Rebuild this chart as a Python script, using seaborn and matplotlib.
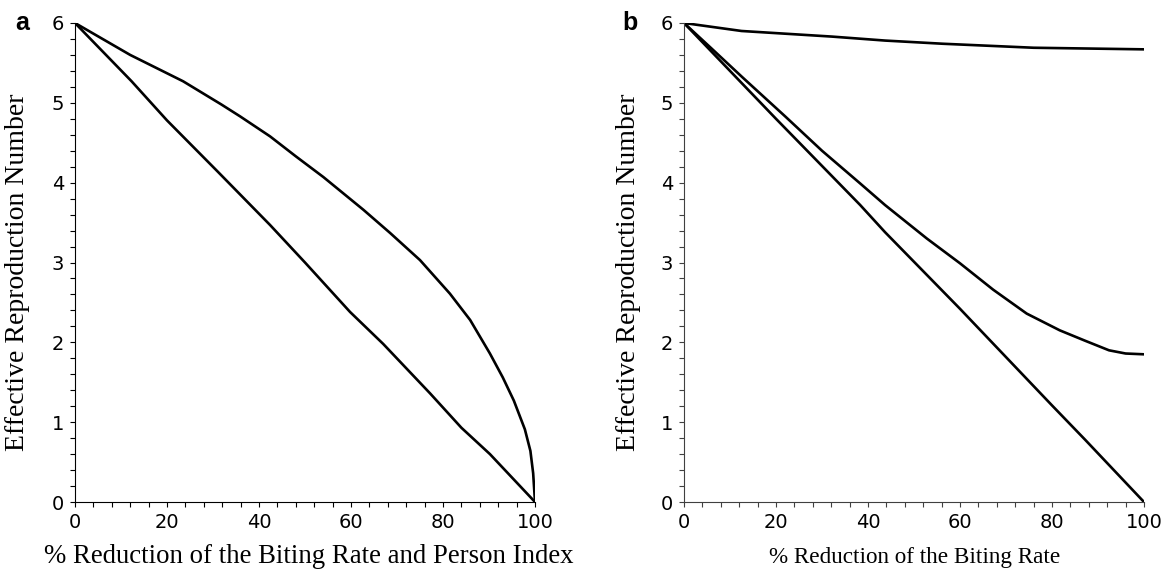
import numpy as np
import pandas as pd
import matplotlib
matplotlib.use("Agg")
import matplotlib.pyplot as plt
import seaborn as sns
from matplotlib.ticker import MultipleLocator

# Panel a
a_lin_x = [0, 12.3, 20, 31, 42.4, 50, 59.8, 67, 77.2, 84, 90.2, 100]
a_lin_y = [6.0, 5.27, 4.78, 4.14, 3.47, 3.00, 2.38, 1.98, 1.36, 0.93, 0.60, 0.0]
a_cur_x = [0, 12, 23.5, 31.8, 35.9, 42.4, 48, 54, 62.7, 68.5, 75, 81.5, 85.9, 90.2, 93, 95.4, 97.8, 99, 99.6, 100]
a_cur_y = [6.0, 5.60, 5.27, 4.98, 4.83, 4.58, 4.33, 4.07, 3.66, 3.37, 3.03, 2.61, 2.28, 1.86, 1.56, 1.27, 0.91, 0.64, 0.36, 0.0]

# Panel b
b_top_x = [0, 12.5, 32.1, 43.7, 56.3, 76, 100]
b_top_y = [6.0, 5.90, 5.83, 5.78, 5.74, 5.69, 5.67]
b_mid_x = [0, 6, 12.7, 22, 30, 38.3, 43.7, 52.8, 60, 67.2, 74.5, 81.7, 87.2, 92.4, 96, 100]
b_mid_y = [6.0, 5.68, 5.32, 4.83, 4.40, 3.99, 3.72, 3.30, 2.99, 2.66, 2.36, 2.15, 2.02, 1.90, 1.86, 1.85]
b_low_x = [0, 20, 38.3, 43.7, 60, 80, 87.2, 100]
b_low_y = [6.0, 4.8, 3.72, 3.38, 2.42, 1.21, 0.78, 0.0]

xticks = [0, 20, 40, 60, 80, 100]
yticks = [0, 1, 2, 3, 4, 5, 6]

sns.set_style("ticks")
plt.rcParams['font.family'] = ['DejaVu Sans']
plt.rcParams['text.color'] = 'black'
plt.rcParams['axes.labelcolor'] = 'black'
plt.rcParams['xtick.labelcolor'] = 'black'
plt.rcParams['ytick.labelcolor'] = 'black'

W, H = 1174, 570
fig = plt.figure(figsize=(W / 100, H / 100), dpi=100)
axa = fig.add_axes([75 / W, 1 - 502 / H, 460 / W, 479 / H])
axb = fig.add_axes([684 / W, 1 - 502 / H, 460 / W, 479 / H])


def draw(ax, series):
    for xs, ys in series:
        df = pd.DataFrame({"x": xs, "y": ys})
        sns.lineplot(data=df, x="x", y="y", ax=ax, color="black", lw=1.9, sort=False)


draw(axa, [(a_lin_x, a_lin_y), (a_cur_x, a_cur_y)])
draw(axb, [(b_top_x, b_top_y), (b_mid_x, b_mid_y), (b_low_x, b_low_y)])

for ax, sc in ((axa, 'black'), (axb, '#404040')):
    ax.set_xlim(0, 100)
    ax.set_ylim(0, 6)
    ax.set_xticks(xticks)
    ax.set_yticks(yticks)
    ax.xaxis.set_minor_locator(MultipleLocator(4))
    ax.yaxis.set_minor_locator(MultipleLocator(0.2))
    ax.tick_params(which='both', direction='out', length=3.8, width=0.8, color=sc)
    ax.tick_params(axis='x', which='major', labelsize=14, pad=4, labelcolor='black')
    ax.tick_params(axis='y', which='major', labelsize=14, pad=4, labelcolor='black')
    for s in ['top', 'right']:
        ax.spines[s].set_visible(False)
    for s in ['left', 'bottom']:
        ax.spines[s].set_linewidth(0.8)
        ax.spines[s].set_color(sc)
    ax.set_ylabel("Effective Reproduction Number", family='Liberation Serif', fontsize=20, color='black')

axa.yaxis.set_label_coords(-0.098, 0.48)
axb.yaxis.set_label_coords(-0.094, 0.48)

axa.set_xlabel("% Reduction of the Biting Rate and Person Index", family='Liberation Serif', fontsize=19.3, color='black')
axb.set_xlabel("% Reduction of the Biting Rate", family='Liberation Serif', fontsize=16.7, color='black')
axa.xaxis.set_label_coords(0.508, -0.087)
axb.xaxis.set_label_coords(0.502, -0.093)

fig.text(15 / W, 1 - 30 / H, "a", family='Liberation Sans', fontsize=18, fontweight='bold', va='baseline', ha='left', color='black')
fig.text(622 / W, 1 - 30 / H, "b", family='Liberation Sans', fontsize=18, fontweight='bold', va='baseline', ha='left', color='black')

fig.savefig("out.png", dpi=100)
